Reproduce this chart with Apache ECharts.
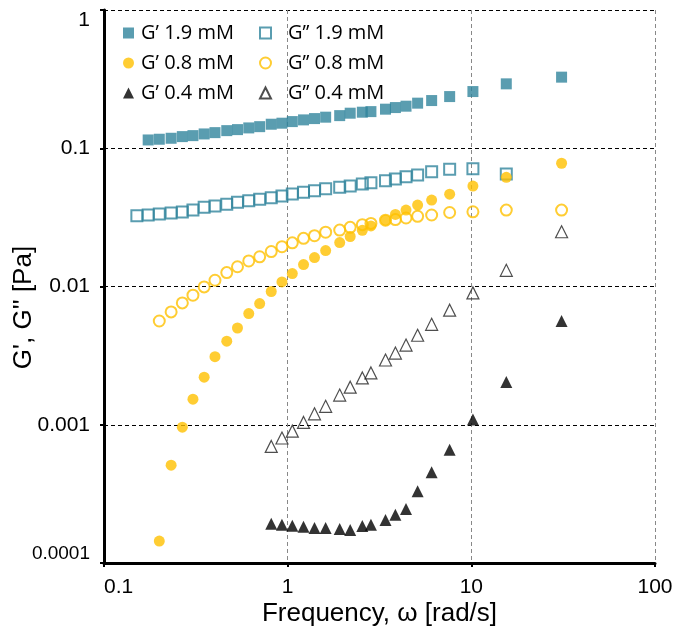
<!DOCTYPE html>
<html><head><meta charset="utf-8">
<script src="https://cdn.jsdelivr.net/npm/echarts@6/dist/echarts.min.js"></script>
<style>html,body{margin:0;padding:0;background:#fff}#c{width:677px;height:641px}</style>
</head><body><div id="c"></div>
<script>
// Frequency (rad/s) shared by all series
const freq = [0.151,0.174,0.200,0.232,0.267,0.305,0.351,0.402,0.466,0.533,0.614,0.704,0.814,0.931,1.06,1.22,1.40,1.61,1.92,2.19,2.55,2.84,3.41,3.86,4.41,5.10,6.08,7.62,10.2,15.5,31.0];
const gp19  = [null,0.1148,0.1162,0.1181,0.1214,0.1234,0.1269,0.1297,0.1341,0.1364,0.1403,0.1433,0.1492,0.1518,0.1559,0.1604,0.1639,0.1678,0.1722,0.1793,0.1823,0.1841,0.1917,0.1969,0.2015,0.2119,0.2213,0.2365,0.2571,0.2923,0.3268];
const gpp19 = [0.0325,0.0329,0.0334,0.0340,0.0346,0.0357,0.0374,0.0382,0.0393,0.0406,0.0417,0.0427,0.0439,0.0451,0.0466,0.0480,0.0493,0.0510,0.0522,0.0533,0.0551,0.0563,0.0582,0.0599,0.0623,0.0640,0.0677,0.0704,0.0711,0.0651,null];
const gp08  = [null,null,0.000144,0.000510,0.000961,0.00153,0.00221,0.00311,0.00402,0.00501,0.00637,0.00753,0.00920,0.0108,0.0124,0.0144,0.0162,0.0182,0.0208,0.0230,0.0255,0.0274,0.0302,0.0332,0.0357,0.0388,0.0422,0.0465,0.0533,0.0616,0.0779];
const gpp08 = [null,null,0.00563,0.00655,0.00761,0.00865,0.00993,0.0111,0.0126,0.0139,0.0153,0.0164,0.0179,0.0194,0.0207,0.0223,0.0233,0.0247,0.0256,0.0268,0.0280,0.0286,0.0302,0.0305,0.0313,0.0322,0.0329,0.0343,0.0347,0.0357,0.0357];
const gp04  = [null,null,null,null,null,null,null,null,null,null,null,null,0.000192,0.000189,0.000186,0.000183,0.000179,0.000179,0.000176,0.000173,0.000185,0.000189,0.000205,0.000223,0.000246,0.000330,0.000454,0.000659,0.00109,0.00204,0.00563];
const gpp04 = [null,null,null,null,null,null,null,null,null,null,null,null,0.000697,0.000802,0.000899,0.00104,0.00120,0.00136,0.00164,0.00187,0.00218,0.00237,0.00294,0.00330,0.00377,0.00444,0.00533,0.00674,0.00899,0.0131,0.0249];
const seriesNames = ['G\u2019 1.9 mM','G\u2019\u2019 1.9 mM','G\u2019 0.8 mM','G\u2019\u2019 0.8 mM','G\u2019 0.4 mM','G\u2019\u2019 0.4 mM'];
const xTickLabels = ['0.1','1','10','100'];
const yTickLabels = ['0.0001','0.001','0.01','0.1','1'];
const xTitle = 'Frequency, \u03c9 [rad/s]';
const yTitle = "G', G'' [Pa]";

const TEAL = '#31859c', YEL = '#ffc000';
function pts(v){ const out=[]; v.forEach((y,i)=>{ if(y!=null) out.push([freq[i],y]); }); return out; }
function nearest(list,val){ const lv=Math.log10(val); let best=list[0],bd=1e9; list.forEach(s=>{const d=Math.abs(Math.log10(parseFloat(s))-lv); if(d<bd){bd=d;best=s;}}); return best; }

const styles = [
  {symbol:'rect', size:11, itemStyle:{color:TEAL}},
  {symbol:'rect', size:11, itemStyle:{color:'rgba(0,0,0,0)', borderColor:TEAL, borderWidth:2}},
  {symbol:'circle', size:11, itemStyle:{color:YEL}},
  {symbol:'circle', size:11, itemStyle:{color:'rgba(0,0,0,0)', borderColor:YEL, borderWidth:2}},
  {symbol:'triangle', size:12, itemStyle:{color:'#000'}},
  {symbol:'triangle', size:12, itemStyle:{color:'rgba(0,0,0,0)', borderColor:'#222', borderWidth:1.2}}
];
const dataSets = [gp19,gpp19,gp08,gpp08,gp04,gpp04];
const series = dataSets.map((d,i)=>({
  name: seriesNames[i], type:'scatter', data: pts(d),
  symbol: styles[i].symbol, symbolSize: styles[i].size, itemStyle: styles[i].itemStyle,
  emphasis:{disabled:true}, animation:false
}));

const legendCommon = {
  orient:'vertical', itemWidth:11, itemHeight:11, itemGap:10,
  textStyle:{fontFamily:'Open Sans', fontSize:20, color:'#000', lineHeight:20},
  selectedMode:false
};
const chart = echarts.init(document.getElementById('c'), null, {renderer:'canvas'});
chart.setOption({
  animation:false,
  backgroundColor:'#fff',
  grid:{left:104, right:22, top:10, bottom:78, containLabel:false, outerBoundsMode:'none'},
  legend:[
    Object.assign({}, legendCommon, {left:118, top:18, data:[seriesNames[0],seriesNames[2],seriesNames[4]],
      textStyle:Object.assign({}, legendCommon.textStyle, {padding:[0,0,0,2]})}),
    Object.assign({}, legendCommon, {left:254, top:18, data:[seriesNames[1],seriesNames[3],seriesNames[5]],
      textStyle:Object.assign({}, legendCommon.textStyle, {padding:[0,0,0,12]})})
  ],
  xAxis:{
    type:'log', logBase:10, min:0.1, max:100,
    name:xTitle, nameLocation:'middle', nameGap:38, nameMoveOverlap:false,
    nameTextStyle:{fontFamily:'Liberation Sans', fontSize:26, color:'#000'},
    axisLine:{show:true, onZero:false, lineStyle:{color:'#000', width:3}},
    axisTick:{show:true, length:4, lineStyle:{color:'#000', width:2}},
    axisLabel:{formatter:v=>nearest(xTickLabels,v), fontFamily:'Liberation Sans', fontSize:21, color:'#000', margin:14, alignMinLabel:'left'},
    splitLine:{show:true, lineStyle:{color:'#888', type:[4,3], width:1}},
    minorTick:{show:false}, minorSplitLine:{show:false}
  },
  yAxis:{
    type:'log', logBase:10, min:0.0001, max:1,
    name:yTitle, nameLocation:'middle', nameGap:67, nameRotate:90, nameMoveOverlap:false,
    nameTextStyle:{fontFamily:'Liberation Sans', fontSize:26, color:'#000', padding:[0,42,0,0]},
    axisLine:{show:true, onZero:false, lineStyle:{color:'#000', width:3}},
    axisTick:{show:true, length:4, lineStyle:{color:'#000', width:2}},
    axisLabel:{
      formatter:v=>{ const s=nearest(yTickLabels,v); return s===yTickLabels[0] ? '{s|'+s+'}' : s; },
      rich:{s:{fontFamily:'Liberation Sans', fontSize:19, color:'#000'}},
      fontFamily:'Liberation Sans', fontSize:21, color:'#000', margin:14,
      verticalAlignMinLabel:'bottom', verticalAlignMaxLabel:'top'},
    splitLine:{show:true, lineStyle:{color:'#000', type:[4,3], width:1}}
  },
  series: series
});
</script></body></html>
